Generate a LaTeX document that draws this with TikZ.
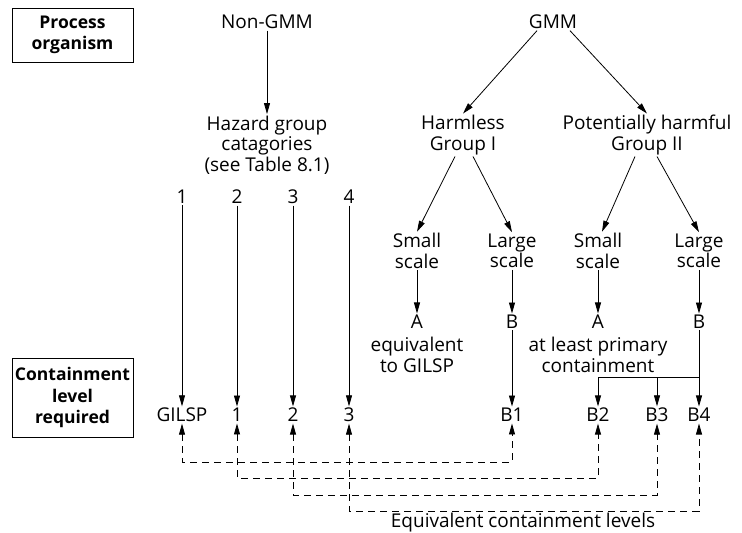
\documentclass[tikz,border=0pt]{standalone}
\usepackage{fontspec}
\setmainfont{Open Sans}
\usetikzlibrary{arrows.meta}
\begin{document}
\begin{tikzpicture}[x=1pt,y=-1pt,
  every node/.style={font=\fontsize{19}{20.5}\selectfont, align=center, inner sep=1.5pt},
  hdr/.style={draw, line width=0.8pt, font=\fontsize{17.5}{21.5}\selectfont\bfseries, minimum width=121pt, inner sep=0pt},
  conn/.style={line width=0.8pt},
  arr/.style={conn, -{Triangle[length=11pt,width=6pt]}},
  eqv/.style={conn, dash pattern=on 7pt off 5pt, {Triangle[length=11pt,width=6pt]}-{Triangle[length=11pt,width=6pt]}}
]
\useasboundingbox (0,0) rectangle (742,533);
% header boxes
\node[hdr, minimum height=54pt] (proc) at (72.5,35) {Process\\organism};
\node[hdr, minimum height=79pt] (cont) at (72.5,397.5) {Containment\\level\\required};
% Non-GMM branch
\node (nongmm) at (267,22) {Non-GMM};
\node (hazard) at (267,145) {Hazard group\\catagories\\(see Table 8.1)};
\node (n1) at (182,197) {1};
\node (n2) at (237,197) {2};
\node (n3) at (293,197) {3};
\node (n4) at (349,197) {4};
% GMM branch
\node (gmm) at (553,22) {GMM};
\node (harmless) at (463,135) {Harmless\\Group I};
\node (pharm) at (647,135) {Potentially harmful\\Group II};
\node (ss1) at (417,251) {Small\\scale};
\node (ls1) at (512,251) {Large\\scale};
\node (ss2) at (598,251) {Small\\scale};
\node (ls2) at (699,251) {Large\\scale};
\node (a1) at (417,322) {A};
\node (b1t) at (512,322) {B};
\node (a2) at (598,322) {A};
\node (b2t) at (699,322) {B};
\node (eqg) at (417,355) {equivalent\\to GILSP};
\node (prim) at (598,355) {at least primary\\containment};
% bottom row
\node (gilsp) at (182,415) {GILSP};
\node (c1) at (237,415) {1};
\node (c2) at (293,415) {2};
\node (c3) at (349,415) {3};
\node (B1) at (512,415) {B1};
\node (B2) at (598,415) {B2};
\node (B3) at (657,415) {B3};
\node (B4) at (699,415) {B4};
\node (eqtext) at (523,523) {Equivalent containment levels};
% connectors
\draw[arr] (nongmm) -- (hazard);
\draw[arr] (n1) -- (gilsp);
\draw[arr] (n2) -- (c1);
\draw[arr] (n3) -- (c2);
\draw[arr] (n4) -- (c3);
\draw[arr] ([xshift=-16pt]gmm.south) -- (harmless.north);
\draw[arr] ([xshift=17pt]gmm.south) -- (pharm.north);
\draw[arr] ([xshift=-8pt]harmless.south) -- (ss1.north);
\draw[arr] ([xshift=10pt]harmless.south) -- (ls1.north);
\draw[arr] ([xshift=-12pt]pharm.south) -- ([xshift=4pt]ss2.north);
\draw[arr] ([xshift=10pt]pharm.south) -- (ls2.north);
\draw[arr] (ss1) -- (a1);
\draw[arr] (ls1) -- (b1t);
\draw[arr] (ss2) -- (a2);
\draw[arr] (ls2) -- (b2t);
\draw[arr] (b1t) -- (B1);
\coordinate (split) at (699,377);
\draw[conn] (b2t.south) -- (split) -- (split -| B2.north);
\draw[arr] (split -| B2.north) -- (B2.north);
\draw[arr] (split -| B3.north) -- (B3.north);
\draw[arr] (split) -- (B4.north);
% equivalence dashed connectors
\coordinate (h1) at (0,462);
\coordinate (h2) at (0,478);
\coordinate (h3) at (0,495);
\coordinate (h4) at (0,511);
\draw[eqv] (gilsp.south) -- (gilsp.south |- h1) -| (B1.south);
\draw[eqv] (c1.south) -- (c1.south |- h2) -| (B2.south);
\draw[eqv] (c2.south) -- (c2.south |- h3) -| (B3.south);
\draw[eqv] (c3.south) -- (c3.south |- h4) -| (B4.south);
\end{tikzpicture}
\end{document}
